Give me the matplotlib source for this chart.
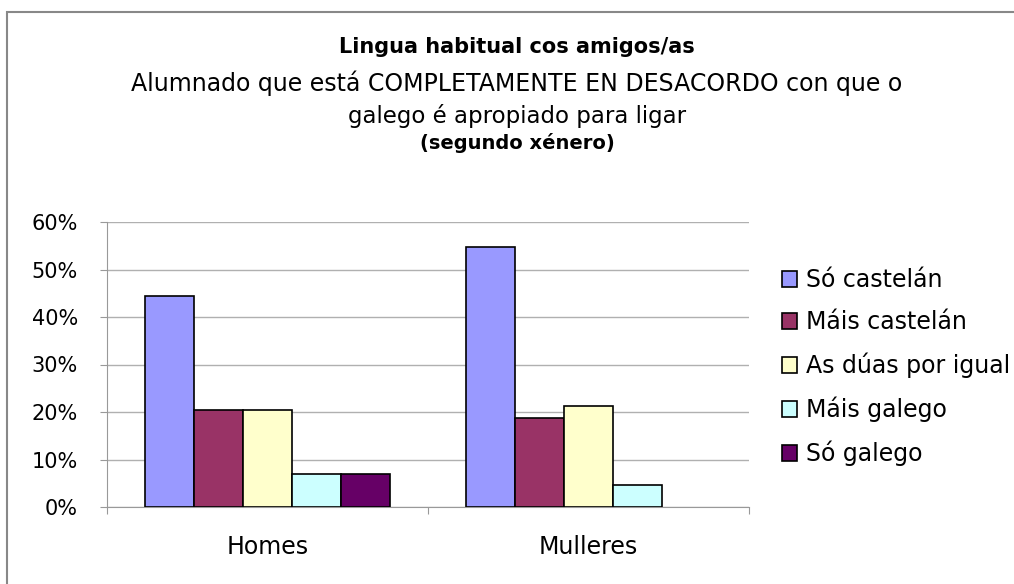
import matplotlib.pyplot as plt
import numpy as np
from matplotlib.patches import Rectangle
from matplotlib.ticker import PercentFormatter

# share of pupils per habitual language with friends, by gender
groups = ["Homes", "Mulleres"]
series = ["Só castelán", "Máis castelán", "As dúas por igual", "Máis galego", "Só galego"]
homes = [0.445, 0.204, 0.204, 0.069, 0.070]
mulleres = [0.547, 0.187, 0.213, 0.047, 0.0]
colors = ["#9999FF", "#993366", "#FFFFCC", "#CCFFFF", "#660066"]

plt.rcParams['font.family'] = ['DejaVu Sans']

W, H = 1014, 584
fig = plt.figure(figsize=(W / 100, H / 100), dpi=100)
ax = fig.add_axes([107 / W, 1 - 507 / H, (749 - 107) / W, (507 - 222) / H])

# outer chart frame (only top and left edges fall inside the image)
fig.patches.append(Rectangle((7 / W, -0.1), 1.2, 1 - 12 / H + 0.1,
                             transform=fig.transFigure, fill=False,
                             edgecolor="#888888", linewidth=1.5))

values = np.array([homes, mulleres])
x = np.arange(len(groups))
width = 0.153
for i, name in enumerate(series):
    vals = values[:, i]
    offs = x + (i - 2) * width
    lw = [1.2 if v > 0 else 0 for v in vals]
    ax.bar(offs, vals, width, color=colors[i], edgecolor="black", linewidth=lw,
           label=name, zorder=3)

ax.set_xlim(-0.5, 1.5)
ax.set_ylim(0, 0.6)
ax.set_yticks(np.arange(0, 0.61, 0.1))
ax.yaxis.set_major_formatter(PercentFormatter(1.0, decimals=0))
ax.grid(axis="y", color="#b0b0b0", linewidth=1, zorder=0)

ax.set_xticks([-0.5, 0.5, 1.5])
ax.set_xticklabels([])
ax.set_xticks(x, minor=True)
ax.set_xticklabels(groups, minor=True, fontsize=17)
ax.tick_params(axis="x", which="minor", length=0, pad=20)
ax.tick_params(axis="x", which="major", length=5, color="#999999")
ax.tick_params(axis="y", length=5, color="#999999", labelsize=15, pad=16)

for side in ["top", "right"]:
    ax.spines[side].set_visible(False)
for side in ["left", "bottom"]:
    ax.spines[side].set_color("#999999")

handles, labels = ax.get_legend_handles_labels()
fig.legend(handles, labels, loc="upper left", bbox_to_anchor=(782 / W, 1 - 268 / H),
           frameon=False, fontsize=17, handlelength=0.64, handleheight=0.64,
           handletextpad=0.38, labelspacing=0.78, borderaxespad=0, borderpad=0)

cx = 517 / W
fig.text(cx, 1 - 47 / H, "Lingua habitual cos amigos/as", ha="center", va="center",
         fontsize=15, fontweight="bold")
fig.text(cx, 1 - 83 / H, "Alumnado que está COMPLETAMENTE EN DESACORDO con que o",
         ha="center", va="center", fontsize=17)
fig.text(cx, 1 - 116 / H, "galego é apropiado para ligar", ha="center", va="center",
         fontsize=16.5)
fig.text(cx, 1 - 143 / H, "(segundo xénero)", ha="center", va="center",
         fontsize=14, fontweight="bold")

fig.savefig("out.png", dpi=100)
